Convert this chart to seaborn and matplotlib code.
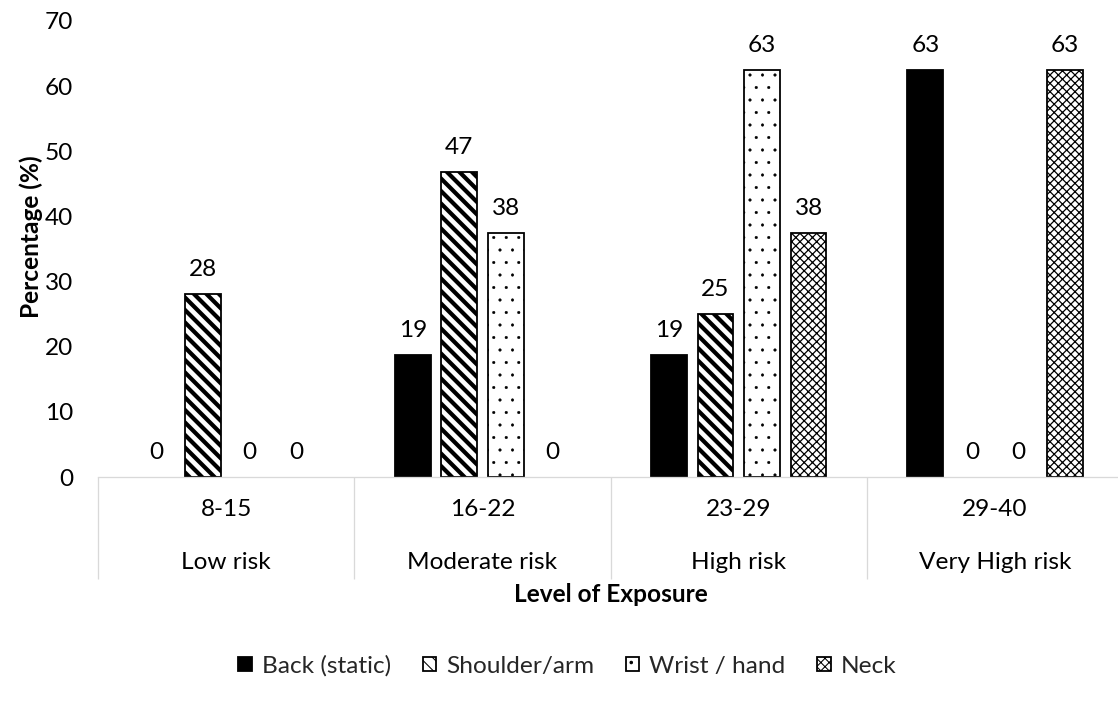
import numpy as np
import pandas as pd
import matplotlib
matplotlib.use("Agg")
import matplotlib.pyplot as plt
import seaborn as sns

# ---- data ----
ranges = ["8-15", "16-22", "23-29", "29-40"]
risk_levels = ["Low risk", "Moderate risk", "High risk", "Very High risk"]
series = ["Back (static)", "Shoulder/arm", "Wrist / hand", "Neck"]
back = [0, 18.75, 18.75, 62.5]
shoulder = [28.125, 46.875, 25, 0]
wrist = [0, 37.5, 62.5, 0]
neck = [0, 0, 37.5, 62.5]
yticks = [0, 10, 20, 30, 40, 50, 60, 70]

DPI = 75
P = 72.0 / DPI          # points per pixel

sns.set_theme(style="white")
plt.rcParams['font.family'] = ['Lato', 'DejaVu Sans']
plt.rcParams['hatch.color'] = 'black'
plt.rcParams['hatch.linewidth'] = 1.0

cats = [f"{r}\n{l}" for r, l in zip(ranges, risk_levels)]
rows = []
for name, vals in zip(series, [back, shoulder, wrist, neck]):
    for c, v in zip(cats, vals):
        rows.append({"Exposure": c, "Series": name, "Value": v})
df = pd.DataFrame(rows)

FS = 24.4 * P
fig = plt.figure(figsize=(1118 / DPI, 711 / DPI), dpi=DPI)
ax = fig.add_axes([0.0877, 0.329, 0.917, 0.6415])

sns.barplot(data=df, x="Exposure", y="Value", hue="Series", order=cats,
            hue_order=series, palette=["black", "white", "white", "white"],
            saturation=1, width=0.726, gap=0.23, edgecolor="black",
            linewidth=1.8 * P, errorbar=None, legend=False, ax=ax)

hatches = [None, "\\\\", ".", "xxx"]
hlw = [1.0, 4.2 * P, 0.5 * P, 1.25 * P]
handles = []
for i, cont in enumerate(ax.containers):
    vals = [back, shoulder, wrist, neck][i]
    for p, v in zip(cont.patches, vals):
        if hatches[i]:
            p.set_hatch(hatches[i])
        try:
            p.set_hatch_linewidth(hlw[i])
        except Exception:
            pass
        if v == 0:
            p.set_linewidth(0)
            p.set_hatch(None)
    nz = [p for p, v in zip(cont.patches, vals) if v != 0]
    handles.append(nz[0])
    labels = [str(int(np.floor(v + 0.5))) for v in vals]
    ax.bar_label(cont, labels=labels, padding=14 * P, fontsize=FS, color="black")

ax.set_ylim(0, 70)
ax.set_xlim(-0.5, 3.5)
ax.set_yticks(yticks)
ax.tick_params(axis="y", length=0, labelsize=FS, pad=25 * P, colors="black")
ax.tick_params(axis="x", which="major", length=0, labelsize=FS, pad=22 * P, colors="black")
ax.set_xticks([-0.5, 0.5, 1.5, 2.5, 3.5], minor=True)
ax.tick_params(axis="x", which="minor", length=102 * P, width=1.3 * P,
               color="#d9d9d9", bottom=True)
for lbl in ax.get_xticklabels():
    lbl.set_linespacing(2.85)

for s in ["top", "right", "left"]:
    ax.spines[s].set_visible(False)
ax.spines["bottom"].set_color("#d9d9d9")
ax.spines["bottom"].set_linewidth(1.3 * P)
ax.grid(False)

ax.set_xlabel("Level of Exposure", fontsize=FS, fontweight="bold", color="black", va="center")
ax.xaxis.set_label_coords(0.5, -0.2585)
ax.set_ylabel("Percentage (%)", fontsize=FS, fontweight="bold", color="black", va="center")
ax.yaxis.set_label_coords(-0.0654, 0.527)

fig.legend(handles, series, loc="center", bbox_to_anchor=(0.5076, 0.0633), ncol=4,
           frameon=False, fontsize=FS, handlelength=0.55, handleheight=0.55,
           handletextpad=0.41, columnspacing=1.3)

fig.savefig("out.png", dpi=DPI)
